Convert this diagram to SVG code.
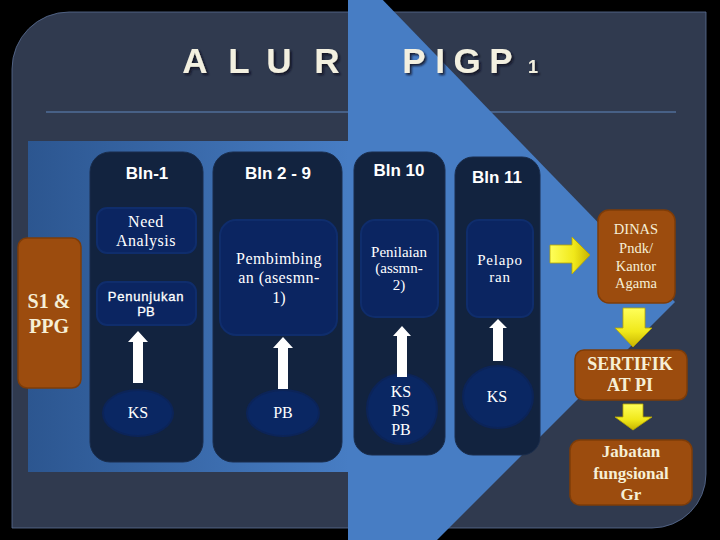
<svg xmlns="http://www.w3.org/2000/svg" width="720" height="540" viewBox="0 0 720 540">
<defs>
<linearGradient id="shaft" x1="0" y1="0" x2="1" y2="0">
<stop offset="0" stop-color="#2c5690"/>
<stop offset="1" stop-color="#477dc4"/>
</linearGradient>
<linearGradient id="yel" x1="0" y1="0" x2="0" y2="1">
<stop offset="0" stop-color="#ffff5a"/>
<stop offset="0.6" stop-color="#f0e81a"/>
<stop offset="1" stop-color="#c8b400"/>
</linearGradient>
<linearGradient id="yelh" x1="0" y1="0" x2="1" y2="0">
<stop offset="0" stop-color="#ffff5a"/>
<stop offset="0.6" stop-color="#f0e81a"/>
<stop offset="1" stop-color="#c8b400"/>
</linearGradient>
<filter id="tshadow" x="-10%" y="-20%" width="130%" height="150%">
<feDropShadow dx="2" dy="2" stdDeviation="0.8" flood-color="#0c111c" flood-opacity="0.85"/>
</filter>
</defs>
<style>
.col{fill:#12233f;stroke:#1a2d4c;stroke-width:1}
.inner{fill:#0b2561;stroke:#0f2d6c;stroke-width:2}
.ell{fill:#0a2763;stroke:#0c2458;stroke-width:2}
.org{fill:#9c4c0e;stroke:#7e3c08;stroke-width:1.5}
.hdr{font-family:"Liberation Sans",Arial,sans-serif;font-weight:bold;font-size:17px;fill:#ffffff;text-anchor:middle}
.pen{font-family:"Liberation Sans",Arial,sans-serif;font-size:13px;fill:#ffffff;text-anchor:middle;stroke:#ffffff;stroke-width:0.3}
.ser{font-family:"Liberation Serif","Times New Roman",serif;fill:#ffffff;text-anchor:middle}
.cream{font-family:"Liberation Serif","Times New Roman",serif;fill:#f6efd6;text-anchor:middle}
.ttl{font-family:"Liberation Sans",Arial,sans-serif;font-weight:bold;fill:#f3f0e0;text-anchor:middle}
.wa{fill:#ffffff}
.ya{stroke:#b8a600;stroke-width:0.8}
</style>
<rect x="0" y="0" width="720" height="540" fill="#000000"/>
<path d="M12,69 A57,57 0 0 1 69,12 L706,12 L706,474 A54,54 0 0 1 652,528 L12,528 Z" fill="#303a4f" stroke="#5a6f94" stroke-width="0.8"/>
<line x1="46" y1="112" x2="676" y2="112" stroke="#5e86bd" stroke-width="1.2"/>
<!-- big arrow -->
<rect x="28" y="141" width="321" height="331" fill="url(#shaft)"/>
<polygon points="348,-36 675,302 348,629" fill="#477dc4"/>
<!-- title -->
<g id="title" class="ttl" filter="url(#tshadow)" font-size="35">
<text x="195" y="73">A</text><text x="239" y="73">L</text><text x="279" y="73">U</text><text x="327" y="73">R</text>
<text x="414" y="73">P</text><text x="440" y="73">I</text><text x="467" y="73">G</text><text x="501" y="73">P</text><text x="533" y="73" font-size="18">1</text>
</g>
<!-- columns -->
<g id="col1">
<rect class="col" x="90" y="152" width="113" height="310" rx="20"/>
<text class="hdr" x="147" y="179">Bln-1</text>
</g>
<g id="col2">
<rect class="col" x="213" y="152" width="129" height="310" rx="20"/>
<text class="hdr" x="278" y="179">Bln 2 - 9</text>
</g>
<g id="col3">
<rect class="col" x="354" y="152" width="91" height="303" rx="18"/>
<text class="hdr" x="399" y="176">Bln 10</text>
</g>
<g id="col4">
<rect class="col" x="455" y="157" width="85" height="298" rx="18"/>
<text class="hdr" x="497" y="183">Bln 11</text>
</g>
<!-- inner boxes -->
<g id="need">
<rect class="inner" x="97" y="208" width="99" height="45" rx="10"/>
<text class="ser" font-size="16" x="146" y="227" letter-spacing="0.5">Need</text>
<text class="ser" font-size="16" x="146" y="246" letter-spacing="0.5">Analysis</text>
</g>
<g id="penunjukan">
<rect class="inner" x="97" y="282" width="99" height="43" rx="10"/>
<text class="pen" x="146" y="301" letter-spacing="0.8">Penunjukan</text>
<text class="pen" x="146" y="316">PB</text>
</g>
<g id="pembimbingan">
<rect class="inner" x="220" y="220" width="117" height="115" rx="16"/>
<text class="ser" font-size="16" x="279" y="264" letter-spacing="0.4">Pembimbing</text>
<text class="ser" font-size="16" x="279" y="283" letter-spacing="0.4">an (asesmn-</text>
<text class="ser" font-size="16" x="279" y="303">1)</text>
</g>
<g id="penilaian">
<rect class="inner" x="361" y="220" width="77" height="97" rx="14"/>
<text class="ser" font-size="15" x="399" y="257">Penilaian</text>
<text class="ser" font-size="15" x="399" y="273">(assmn-</text>
<text class="ser" font-size="15" x="399" y="290">2)</text>
</g>
<g id="pelaporan">
<rect class="inner" x="467" y="220" width="66" height="97" rx="12"/>
<text class="ser" font-size="15" x="500" y="265" letter-spacing="0.8">Pelapo</text>
<text class="ser" font-size="15" x="500" y="282" letter-spacing="0.8">ran</text>
</g>
<!-- ellipses -->
<g id="ks1">
<ellipse class="ell" cx="138" cy="413" rx="35" ry="23"/>
<text class="ser" font-size="16" x="138" y="418">KS</text>
</g>
<g id="pb2">
<ellipse class="ell" cx="283" cy="413" rx="36" ry="23"/>
<text class="ser" font-size="16" x="283" y="418">PB</text>
</g>
<g id="ksps">
<ellipse class="ell" cx="402" cy="409" rx="35" ry="35"/>
<text class="ser" font-size="16" x="401" y="397">KS</text>
<text class="ser" font-size="16" x="401" y="416">PS</text>
<text class="ser" font-size="16" x="401" y="435">PB</text>
</g>
<g id="ks4">
<ellipse class="ell" cx="498" cy="397" rx="35" ry="31"/>
<text class="ser" font-size="16" x="497" y="402">KS</text>
</g>
<!-- orange boxes -->
<g id="s1ppg">
<rect class="org" x="18" y="238" width="63" height="150" rx="9"/>
<text class="cream" font-size="20" font-weight="bold" x="49" y="308">S1 &amp;</text>
<text class="cream" font-size="20" font-weight="bold" x="49" y="333">PPG</text>
</g>
<g id="dinas">
<rect class="org" x="598" y="210" width="77" height="93" rx="11"/>
<text class="cream" font-size="14.5" x="636" y="234">DINAS</text>
<text class="cream" font-size="14.5" x="636" y="253">Pndk/</text>
<text class="cream" font-size="14.5" x="636" y="271">Kantor</text>
<text class="cream" font-size="14.5" x="636" y="288">Agama</text>
</g>
<g id="sertifikat">
<rect class="org" x="575" y="350" width="112" height="50" rx="9"/>
<text class="cream" font-size="18" font-weight="bold" x="630" y="370">SERTIFIK</text>
<text class="cream" font-size="18" font-weight="bold" x="630" y="391">AT PI</text>
</g>
<g id="jabatan">
<rect class="org" x="570" y="440" width="122" height="65" rx="10"/>
<text class="cream" font-size="17" font-weight="bold" x="631" y="457">Jabatan</text>
<text class="cream" font-size="17" font-weight="bold" x="631" y="479">fungsional</text>
<text class="cream" font-size="17" font-weight="bold" x="631" y="500">Gr</text>
</g>
<!-- connectors -->
<g id="connectors">
<polygon class="wa" points="138,331 148,342 143,342 143,383 133,383 133,342 128,342"/>
<polygon class="wa" points="283,337 293,348 288,348 288,389 278,389 278,348 273,348"/>
<polygon class="wa" points="402,326 411,336 407,336 407,377 397,377 397,336 393,336"/>
<polygon class="wa" points="498,319 507,328 503,328 503,361 493,361 493,328 489,328"/>
<polygon class="ya" fill="url(#yelh)" points="550,245 572,245 572,237 590,255 572,274 572,263 550,263"/>
<polygon class="ya" fill="url(#yel)" points="623,308 645,308 645,328 652,328 633,347 615,328 623,328"/>
<polygon class="ya" fill="url(#yel)" points="623,404 643,404 643,417 652,417 633,430 615,417 623,417"/>
</g>
</svg>
